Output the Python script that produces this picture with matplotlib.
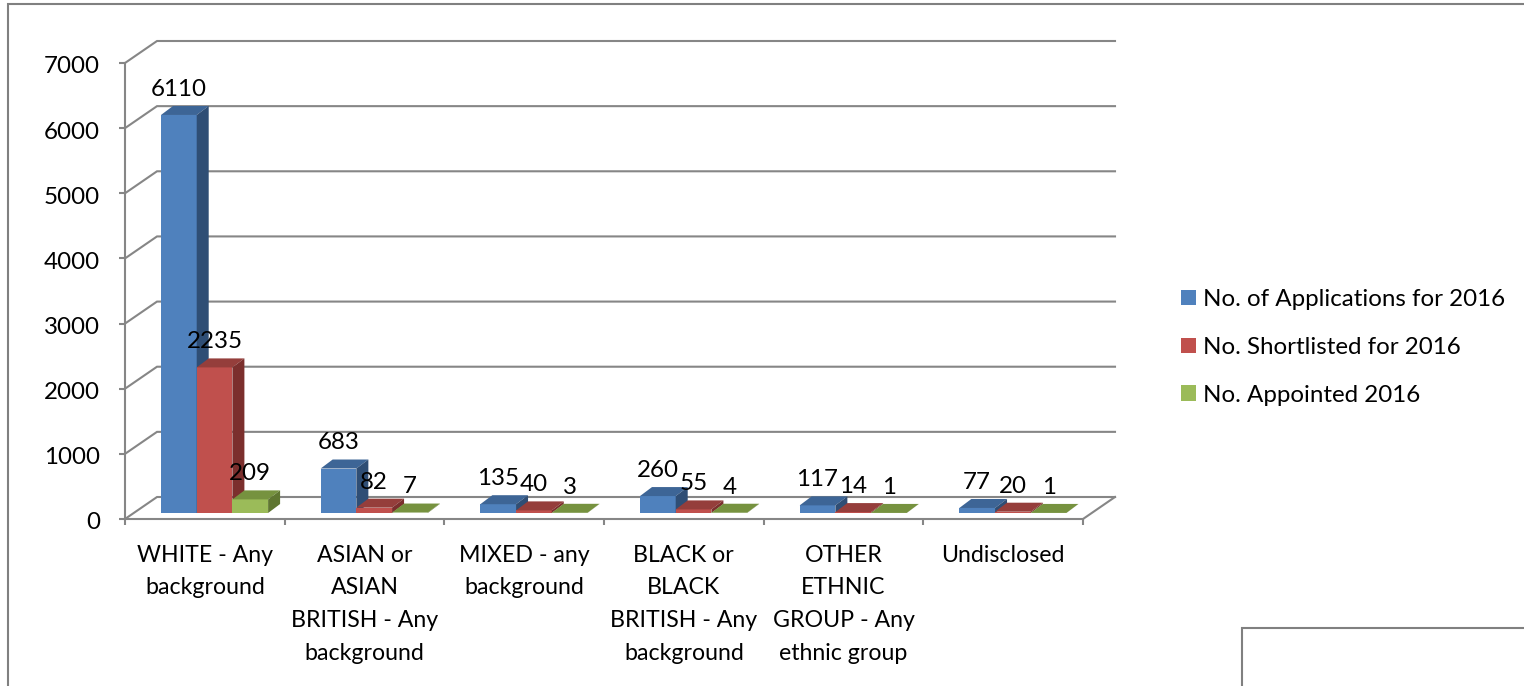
import matplotlib
matplotlib.use("Agg")
import matplotlib.pyplot as plt
from matplotlib.lines import Line2D
from matplotlib.patches import Patch, Polygon
from matplotlib.transforms import ScaledTranslation

categories = ["WHITE - Any\nbackground", "ASIAN or\nASIAN\nBRITISH - Any\nbackground",
              "MIXED - any\nbackground", "BLACK or\nBLACK\nBRITISH - Any\nbackground",
              "OTHER\nETHNIC\nGROUP - Any\nethnic group", "Undisclosed"]
applications = [6110, 683, 135, 260, 117, 77]
shortlisted = [2235, 82, 40, 55, 14, 20]
appointed = [209, 7, 3, 4, 1, 1]
series_names = ["No. of Applications for 2016", "No. Shortlisted for 2016", "No. Appointed 2016"]

W, H = 1524, 686
plt.rcParams['font.family'] = ['Lato', 'DejaVu Sans']
GRAY = "#868686"
FONT = 17.4

# colours: front, top, side
colors = [("#4F81BD", "#3D6596", "#2F4E75"),
          ("#C0504D", "#953E3B", "#7B2F2D"),
          ("#9BBB59", "#76923F", "#5F7631")]

fig = plt.figure(figsize=(W / 100, H / 100), dpi=100)
ax = fig.add_axes([125 / W, (H - 519) / H, 958 / W, 456 / H])
ax.set_xlim(0, 6)
ax.set_ylim(0, 7000)

# pixel sizes turned into data units
px_x = 6 / 958
px_y = 7000 / 456
wall_dx, wall_dy = 32 * px_x, 22 * px_y
bar_dx, bar_dy = 12 * px_x, 9 * px_y
bar_base = 6 * px_y
bar_w = 35.7 * px_x
bar_start = 36 * px_x

# back wall and floor
for v in range(0, 7001, 1000):
    ax.plot([0, wall_dx, 6 + wall_dx], [v, v + wall_dy, v + wall_dy], color=GRAY, lw=1.5,
            clip_on=False, zorder=1, solid_joinstyle="miter")
ax.plot([6, 6 + wall_dx], [0, wall_dy], color=GRAY, lw=1.5, clip_on=False, zorder=1)

for s, values in enumerate([applications, shortlisted, appointed]):
    front, top, side = colors[s]
    for i, v in enumerate(values):
        x0 = i + bar_start + s * bar_w
        x1 = x0 + bar_w
        y0 = bar_base
        y1 = bar_base + v
        z = 2 + s + i * 3
        ax.bar(x0, v, bar_w, bottom=y0, align="edge", color=front, lw=0, zorder=z, clip_on=False)
        ax.add_patch(Polygon([(x0, y1), (x1, y1), (x1 + bar_dx, y1 + bar_dy), (x0 + bar_dx, y1 + bar_dy)],
                             closed=True, fc=top, lw=0, zorder=z, clip_on=False))
        ax.add_patch(Polygon([(x1, y0), (x1, y1), (x1 + bar_dx, y1 + bar_dy), (x1 + bar_dx, y0 + bar_dy)],
                             closed=True, fc=side, lw=0, zorder=z, clip_on=False))
        ax.annotate(str(v), (x0 + bar_w / 2, y1), xytext=(0, 18.4), textcoords="offset points",
                    ha="center", va="center", fontsize=FONT, color="black", zorder=50)

for name in ["top", "right"]:
    ax.spines[name].set_visible(False)
for name in ["left", "bottom"]:
    ax.spines[name].set_color(GRAY)
    ax.spines[name].set_linewidth(1.5)
    ax.spines[name].set_zorder(1)

ax.set_yticks(range(0, 7001, 1000))
ax.tick_params(axis="y", length=4.5, width=1.5, color=GRAY, labelsize=FONT, pad=13.4)
# labels sit a little under their ticks
for label in ax.get_yticklabels():
    label.set_transform(label.get_transform() + ScaledTranslation(0, -1.4 / 72, fig.dpi_scale_trans))
ax.set_xticks(range(7))
ax.set_xticklabels([])
ax.tick_params(axis="x", which="major", length=4.5, width=1.5, color=GRAY)
ax.set_xticks([i + 0.5 for i in range(6)], minor=True)
ax.set_xticklabels(categories, minor=True, fontsize=16.7, linespacing=1.69, va="top")
ax.tick_params(axis="x", which="minor", length=0, pad=18.5)

handles = [Patch(fc=c[0], lw=0) for c in colors]
fig.legend(handles, series_names, loc="center left", bbox_to_anchor=(1181 / W, 1 - 347.5 / H),
           frameon=False, fontsize=FONT, handlelength=0.62, handleheight=0.62, handletextpad=0.3,
           labelspacing=1.11, borderpad=0, borderaxespad=0)

# outer frame and the stray box corner
for xs, ys in [([8, 8, W], [H, 4, 4]), ([1242, 1242, W], [H, 628, 628])]:
    fig.add_artist(Line2D([x / W for x in xs], [1 - y / H for y in ys], color="#808080", lw=1.5,
                          solid_joinstyle="miter"))

fig.savefig("out.png", dpi=100)
